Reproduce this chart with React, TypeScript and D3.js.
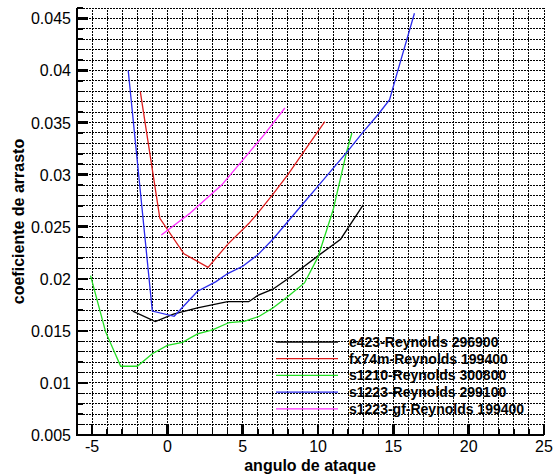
import React from "react";
import * as d3 from "d3";

const seriesNames = [
  "e423-Reynolds 296900",
  "fx74m-Reynolds 199400",
  "s1210-Reynolds 300800",
  "s1223-Reynolds 299100",
  "s1223-gf-Reynolds 199400",
];
const seriesColors = ["#000000", "#dd1c1c", "#22dd22", "#2a2aee", "#ff2cff"];

const alphaE423 = [-2.3, -0.8, 0.4, 2, 4, 5.4, 6, 7, 8, 9, 10, 11.5, 13];
const cdE423 = [0.0169, 0.0159, 0.0166, 0.0172, 0.0178, 0.0178, 0.0184, 0.019, 0.02, 0.0211, 0.0222, 0.0238, 0.0271];

const alphaFx74m = [-1.8, -0.5, 1.1, 2.7, 4, 5.4, 6, 7, 8, 9, 10.45];
const cdFx74m = [0.038, 0.0258, 0.0224, 0.0211, 0.0233, 0.0253, 0.0263, 0.0281, 0.03, 0.0321, 0.0351];

const alphaS1210 = [-5.1, -4.1, -3.1, -2, -1, 0, 1, 2, 3, 4.1, 5.1, 6.1, 7, 8, 9.1, 10, 11, 11.9, 12.25];
const cdS1210 = [0.0203, 0.0149, 0.0116, 0.0116, 0.0128, 0.0136, 0.0139, 0.0147, 0.0151, 0.0158, 0.0159, 0.0164, 0.0172, 0.0183, 0.0196, 0.0221, 0.0266, 0.0322, 0.034];

const alphaS1223 = [-2.6, -1.0, 0.45, 2, 3.2, 4, 5, 6, 7, 8, 9, 10, 11, 12, 13, 14, 14.75, 15.2, 16.4];
const cdS1223 = [0.04, 0.0169, 0.0164, 0.0188, 0.0197, 0.0205, 0.0212, 0.0223, 0.0238, 0.0255, 0.0272, 0.0289, 0.0306, 0.0323, 0.0341, 0.0358, 0.0372, 0.0395, 0.0455];

const alphaS1223gf = [-0.4, 1.5, 3.6, 5, 6.4, 7.8];
const cdS1223gf = [0.0242, 0.0263, 0.029, 0.0314, 0.0338, 0.0364];

const xMajorTicks = [-5, 0, 5, 10, 15, 20, 25];
const yMajorTicks = [0.005, 0.01, 0.015, 0.02, 0.025, 0.03, 0.035, 0.04, 0.045];
const yTickLabels = ["0.005", "0.01", "0.015", "0.02", "0.025", "0.03", "0.035", "0.04", "0.045"];

const xTitle = "angulo de ataque";
const yTitle = "coeficiente de arrasto";

const W = 553;
const H = 476;
const left = 77;
const right = 544;
const top = 8;
const bottom = 435;

export default function App() {
  const x = d3.scaleLinear().domain([-6, 25]).range([left, right]);
  const y = d3.scaleLinear().domain([0.005, 0.046]).range([bottom, top]);
  const line = d3
    .line<[number, number]>()
    .x((d) => x(d[0]))
    .y((d) => y(d[1]));

  const series = [
    [alphaE423, cdE423],
    [alphaFx74m, cdFx74m],
    [alphaS1210, cdS1210],
    [alphaS1223, cdS1223],
    [alphaS1223gf, cdS1223gf],
  ].map(([a, c]) => a.map((v, i) => [v, c[i]] as [number, number]));

  const xGrid = d3.range(-5, 26);
  const yGrid = d3.range(6, 47).map((i) => i / 1000);
  const xMinor = d3.range(-6, 26).filter((v) => v % 5 !== 0);
  const yMinor = d3.range(5, 47).filter((i) => i % 5 !== 0).map((i) => i / 1000);

  const font = "Liberation Sans, Arial, Helvetica, sans-serif";
  const legendX1 = 276;
  const legendX2 = 338;
  const legendTextX = 349;
  const legendY0 = 342;
  const legendDy = 16.7;

  return (
    <svg
      width={W}
      height={H}
      style={{ position: "absolute", left: 0, top: 0, background: "#fff" }}
      fontFamily={font}
    >
      <rect x={0} y={0} width={W} height={H} fill="#fff" />
      <g stroke="#000" strokeWidth={1} strokeDasharray="2,1" shapeRendering="crispEdges">
        {xGrid.map((v) => (
          <line key={"gx" + v} x1={x(v)} x2={x(v)} y1={bottom} y2={top} />
        ))}
        {yGrid.map((v) => (
          <line key={"gy" + v} x1={left} x2={right} y1={y(v)} y2={y(v)} />
        ))}
      </g>
      <g fill="none" strokeWidth={1.3}>
        {series.map((s, i) => (
          <path key={i} d={line(s) || ""} stroke={seriesColors[i]} />
        ))}
      </g>
      <g stroke="#000" shapeRendering="crispEdges">
        {xMinor.map((v) => (
          <line key={"xm" + v} x1={x(v)} x2={x(v)} y1={bottom} y2={bottom - 6} strokeWidth={1.5} />
        ))}
        {xMajorTicks.map((v) => (
          <line key={"xM" + v} x1={x(v)} x2={x(v)} y1={bottom} y2={bottom - 11} strokeWidth={2.5} />
        ))}
        {yMinor.map((v) => (
          <line key={"ym" + v} x1={left} x2={left + 6} y1={y(v)} y2={y(v)} strokeWidth={1.5} />
        ))}
        {yMajorTicks.map((v) => (
          <line key={"yM" + v} x1={left} x2={left + 11} y1={y(v)} y2={y(v)} strokeWidth={2.5} />
        ))}
        <line x1={left} x2={right} y1={bottom} y2={bottom} strokeWidth={2.5} />
        <line x1={left} x2={left} y1={bottom + 1} y2={top} strokeWidth={2.5} />
      </g>
      <g fontSize={16} fill="#000">
        {xMajorTicks.map((v) => (
          <text key={"xl" + v} x={x(v)} y={452} textAnchor="middle">
            {v}
          </text>
        ))}
        {yMajorTicks.map((v, i) => (
          <text key={"yl" + v} x={71} y={y(v) + 6} textAnchor="end">
            {yTickLabels[i]}
          </text>
        ))}
      </g>
      <text x={310} y={471} textAnchor="middle" fontSize={16} fontWeight="bold">
        {xTitle}
      </text>
      <text
        transform={`translate(24, ${(top + bottom) / 2}) rotate(-90)`}
        textAnchor="middle"
        fontSize={16}
        fontWeight="bold"
      >
        {yTitle}
      </text>
      <g>
        {seriesNames.map((n, i) => (
          <g key={n}>
            <line
              x1={legendX1}
              x2={legendX2}
              y1={legendY0 + i * legendDy}
              y2={legendY0 + i * legendDy}
              stroke={seriesColors[i]}
              strokeWidth={1.3}
            />
            <text x={legendTextX} y={legendY0 + i * legendDy + 5} fontSize={14} fontWeight="bold">
              {n}
            </text>
          </g>
        ))}
      </g>
    </svg>
  );
}
